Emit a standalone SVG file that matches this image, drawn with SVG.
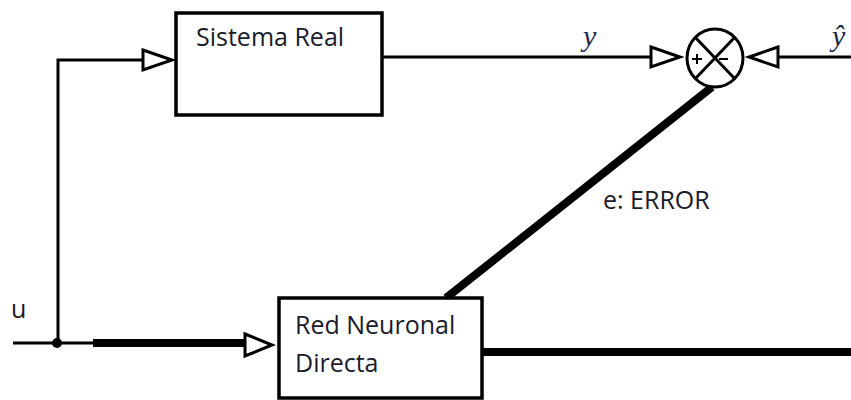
<svg xmlns="http://www.w3.org/2000/svg" width="851" height="400" viewBox="0 0 851 400">
<style>
.box{fill:#fff;stroke:#000;stroke-width:3.5}
.ln{fill:none;stroke:#000;stroke-width:3}
.thick{fill:none;stroke:#000;stroke-width:8}
.tri{fill:#fff;stroke:#000;stroke-width:3;stroke-linejoin:miter}
.lbl{font-family:"Open Sans","Liberation Sans",sans-serif;font-size:25px;fill:#1b1b2a}
.math{font-family:"Liberation Serif",serif;font-style:italic;font-size:30px;fill:#1b2a4a}
</style>
<rect width="851" height="400" fill="#fff"/>
<g id="connectors">
<path class="ln" d="M13,343 H95"/>
<path class="thick" d="M93,343 H246"/>
<path class="ln" d="M58,343 V60 H143"/>
<path class="ln" d="M382,57 H651"/>
<path class="ln" d="M778,57 H851"/>
<path class="thick" d="M712,87 L446,298"/>
<path class="thick" d="M482,352 H851"/>
<circle cx="57" cy="343" r="5" fill="#000"/>
<polygon class="tri" points="245,334 272,345 245,356"/>
<polygon class="tri" points="143,50 172,60 143,70"/>
<polygon class="tri" points="651,47 680,57 651,67"/>
<polygon class="tri" points="778,47 749,57 778,67"/>
</g>
<g id="sistema-real">
<rect class="box" x="176" y="13" width="206" height="102"/>
<text class="lbl" x="196" y="46">Sistema Real</text>
</g>
<g id="sumador">
<ellipse cx="715" cy="58" rx="28" ry="29" fill="#fff" stroke="#000" stroke-width="3"/>
<path class="ln" d="M695,37 L735,79 M735,37 L695,79"/>
<path d="M692,59 h10 M697,54 v10 M719,59 h9" fill="none" stroke="#000" stroke-width="2"/>
</g>
<g id="red-neuronal">
<rect class="box" x="279" y="298" width="203" height="100"/>
<text class="lbl" x="295" y="334">Red Neuronal</text>
<text class="lbl" x="295" y="372">Directa</text>
</g>
<g id="labels">
<text class="math" x="583" y="46">y</text>
<text class="math" x="832" y="46">ŷ</text>
<text class="lbl" x="603" y="209" font-size="23">e: ERROR</text>
<text class="lbl" x="11" y="318">u</text>
</g>
</svg>
